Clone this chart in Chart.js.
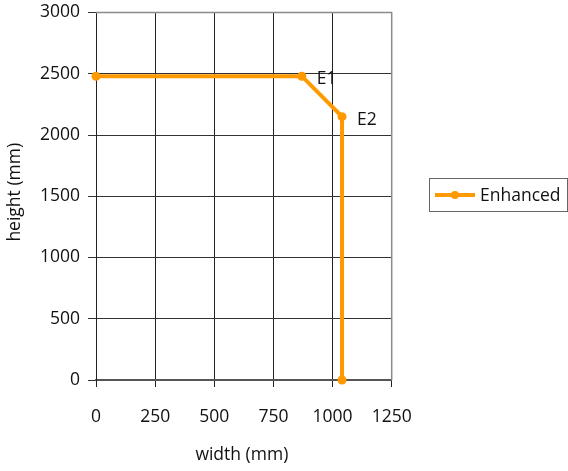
<!DOCTYPE html>
<html>
<head>
<meta charset="utf-8">
<script src="https://cdn.jsdelivr.net/npm/chart.js@4/dist/chart.umd.min.js"></script>
<style>
  html, body { margin: 0; padding: 0; background: #fff; }
  #wrap { width: 568px; height: 471px; position: relative; }
</style>
</head>
<body>
<div id="wrap"><canvas id="c" width="568" height="471"></canvas></div>
<script>
// Opening profile: width vs height (mm)
const seriesName = 'Enhanced';
const widthMm  = [0, 870, 1040, 1040];
const heightMm = [2480, 2480, 2150, 0];
const pointNames = ['', 'E1', 'E2', ''];
const xTicks = [0, 250, 500, 750, 1000, 1250];
const yTicks = [0, 500, 1000, 1500, 2000, 2500, 3000];
const xTitle = 'width (mm)';
const yTitle = 'height (mm)';

const ORANGE = '#FF9900';
const FONT = "'Open Sans', sans-serif";
const FS = 17.5;

const points = widthMm.map((x, i) => ({ x: x, y: heightMm[i] }));

// Point names, axis titles and a boxed legend drawn on the canvas
const extras = {
  id: 'extras',
  afterDatasetsDraw(chart) {
    const ctx = chart.ctx;
    const meta = chart.getDatasetMeta(0);
    ctx.save();
    ctx.fillStyle = '#111';
    ctx.font = FS + 'px ' + FONT;
    ctx.textBaseline = 'middle';
    ctx.textAlign = 'left';
    meta.data.forEach((pt, i) => {
      if (pointNames[i]) ctx.fillText(pointNames[i], pt.x + 15, pt.y + 3);
    });

    // axis titles
    const ca = chart.chartArea;
    ctx.textAlign = 'center';
    ctx.fillText(xTitle, (ca.left + ca.right) / 2 - 2, 455);
    ctx.save();
    ctx.translate(15, (ca.top + ca.bottom) / 2 - 4);
    ctx.rotate(-Math.PI / 2);
    ctx.fillText(yTitle, 0, 0);
    ctx.restore();

    // legend
    const lx = 429.5, ly = 178.5, lw = 138, lh = 33;
    ctx.strokeStyle = '#666';
    ctx.lineWidth = 1;
    ctx.strokeRect(lx, ly, lw, lh);
    const cy = ly + lh / 2;
    ctx.strokeStyle = ORANGE;
    ctx.lineWidth = 4;
    ctx.beginPath();
    ctx.moveTo(435, cy);
    ctx.lineTo(475, cy);
    ctx.stroke();
    ctx.fillStyle = ORANGE;
    ctx.beginPath();
    ctx.arc(455, cy, 4, 0, Math.PI * 2);
    ctx.fill();
    ctx.fillStyle = '#111';
    ctx.textAlign = 'left';
    ctx.fillText(seriesName, 480, cy + 1);

    // plot frame, top and right
    ctx.strokeStyle = '#8a8a8a';
    ctx.lineWidth = 1.5;
    ctx.beginPath();
    ctx.moveTo(ca.left, ca.top);
    ctx.lineTo(ca.right, ca.top);
    ctx.lineTo(ca.right, ca.bottom);
    ctx.stroke();
    ctx.restore();
  }
};

const plain = v => String(v);

new Chart(document.getElementById('c'), {
  type: 'scatter',
  data: {
    datasets: [{
      label: seriesName,
      data: points,
      showLine: true,
      clip: false,
      borderColor: ORANGE,
      backgroundColor: ORANGE,
      borderWidth: 4,
      pointRadius: 4.5,
      pointHoverRadius: 4.5,
      pointBorderWidth: 0,
      tension: 0
    }]
  },
  options: {
    responsive: false,
    animation: false,
    events: [],
    layout: { padding: { left: 0, top: 12.5, right: 176.3, bottom: 0 } },
    plugins: { legend: { display: false }, tooltip: { enabled: false } },
    scales: {
      x: {
        type: 'linear',
        min: 0, max: 1250,
        afterBuildTicks(s) { s.ticks = xTicks.map(v => ({ value: v })); },
        afterFit(s) { s.height = 91; s.paddingLeft = 0; s.paddingRight = 0; },
        grid: { color: '#222', lineWidth: 1, tickLength: 7, drawTicks: true },
        border: { color: '#555', width: 2 },
        ticks: { color: '#111', font: { family: FONT, size: FS }, padding: 20, maxRotation: 0, callback: plain }
      },
      y: {
        type: 'linear',
        min: 0, max: 3000,
        afterBuildTicks(s) { s.ticks = yTicks.map(v => ({ value: v })); },
        afterFit(s) { s.width = 96; s.paddingTop = 0; s.paddingBottom = 0; },
        grid: { color: '#333', lineWidth: 1, tickLength: 8, drawTicks: true },
        border: { color: '#222', width: 1 },
        ticks: { color: '#111', font: { family: FONT, size: FS }, padding: 8, callback: plain }
      }
    }
  },
  plugins: [extras]
});
</script>
</body>
</html>
